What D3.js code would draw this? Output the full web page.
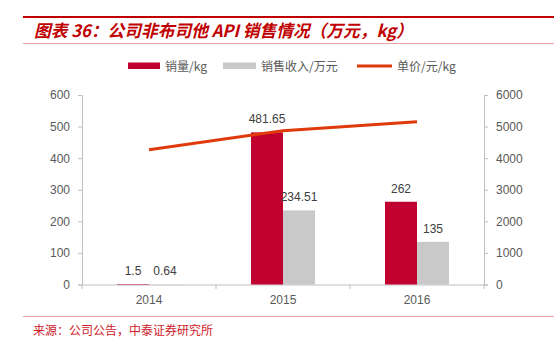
<!DOCTYPE html>
<html><head><meta charset="utf-8">
<script src="https://cdn.jsdelivr.net/npm/d3@7"></script>
<style>
html,body{margin:0;padding:0;background:#fff;}
svg{display:block;}
</style></head>
<body>
<script>
const categories = ["2014", "2015", "2016"];
const volume = [1.5, 481.65, 262];          // 销量/kg
const revenue = [0.64, 234.51, 135];        // 销售收入/万元
const price = [4267, 4869, 5153];           // 单价/元/kg
const volumeLabels = ["1.5", "481.65", "262"];
const revenueLabels = ["0.64", "234.51", "135"];
const leftTicks = [0, 100, 200, 300, 400, 500, 600];
const rightTicks = [0, 1000, 2000, 3000, 4000, 5000, 6000];
const seriesNames = ["销量/kg", "销售收入/万元", "单价/元/kg"];

const W = 559, H = 343;
const svg = d3.select("body").append("svg").attr("width", W).attr("height", H);
const numFont = "'Liberation Sans', Arial, sans-serif";
const cjkFont = "'Noto Sans CJK SC', sans-serif";
const red = "#C0002F", gray = "#C9C9C9", orange = "#E03A0A", txt = "#595959";

// header
svg.append("line").attr("x1", 23).attr("x2", 554).attr("y1", 17).attr("y2", 17)
  .attr("stroke", "#C00000").attr("stroke-width", 2);
svg.append("text").attr("x", 34).attr("y", 37)
  .attr("font-family", cjkFont).attr("font-size", 17).attr("font-weight", "bold")
  .attr("font-style", "italic").attr("fill", "#C00000")
  .attr("textLength", 379).attr("lengthAdjust", "spacingAndGlyphs")
  .text("图表 36：公司非布司他 API 销售情况（万元，kg）");
svg.append("line").attr("x1", 23).attr("x2", 554).attr("y1", 43.5).attr("y2", 43.5)
  .attr("stroke", "#E9A3A3").attr("stroke-width", 1);

// footer
svg.append("line").attr("x1", 23).attr("x2", 554).attr("y1", 316.5).attr("y2", 316.5)
  .attr("stroke", "#E9A3A3").attr("stroke-width", 1);
svg.append("text").attr("x", 33).attr("y", 335)
  .attr("font-family", cjkFont).attr("font-size", 12).attr("fill", "#D0202A")
  .text("来源：公司公告，中泰证券研究所");

// scales
const x = d3.scaleBand().domain(categories).range([82, 484]);
const yL = d3.scaleLinear().domain([0, 600]).range([284.5, 95]);
const yR = d3.scaleLinear().domain([0, 6000]).range([284.5, 95]);
const bw = 32;

// axes
const axL = svg.append("g").attr("transform", "translate(82,0)")
  .call(d3.axisLeft(yL).tickValues(leftTicks).tickFormat(d3.format("d")).tickSize(4).tickPadding(8));
const axR = svg.append("g").attr("transform", "translate(484,0)")
  .call(d3.axisRight(yR).tickValues(rightTicks).tickFormat(d3.format("d")).tickSize(4).tickPadding(8));
const axB = svg.append("g").attr("transform", "translate(0,284.5)")
  .call(d3.axisBottom(x).tickSize(0).tickPadding(11));
// category boundary ticks
svg.append("g").selectAll("line").data(d3.range(categories.length + 1)).join("line")
  .attr("x1", i => 82 + i * x.step()).attr("x2", i => 82 + i * x.step())
  .attr("y1", 284.5).attr("y2", 289).attr("stroke", "#BFBFBF");
[axL, axR, axB].forEach(g => {
  g.selectAll("path.domain").attr("stroke", "#BFBFBF");
  g.selectAll(".tick line").attr("stroke", "#BFBFBF");
  g.selectAll("text").attr("font-family", numFont).attr("font-size", 12).attr("fill", txt);
});

const center = d => x(d) + x.bandwidth() / 2;

// bars
svg.append("g").selectAll("rect").data(categories).join("rect")
  .attr("x", d => center(d) - bw).attr("width", bw)
  .attr("y", (d, i) => yL(volume[i])).attr("height", (d, i) => yL(0) - yL(volume[i]))
  .attr("fill", red);
svg.append("g").selectAll("rect").data(categories).join("rect")
  .attr("x", d => center(d)).attr("width", bw)
  .attr("y", (d, i) => yL(revenue[i])).attr("height", (d, i) => yL(0) - yL(revenue[i]))
  .attr("fill", gray);

// bar labels
const lbl = svg.append("g").attr("font-family", numFont).attr("font-size", 12)
  .attr("fill", "#404040").attr("text-anchor", "middle");
lbl.selectAll("text.v").data(categories).join("text").attr("class", "v")
  .attr("x", d => center(d) - bw / 2).attr("y", (d, i) => yL(volume[i]) - 9)
  .text((d, i) => volumeLabels[i]);
lbl.selectAll("text.r").data(categories).join("text").attr("class", "r")
  .attr("x", d => center(d) + bw / 2).attr("y", (d, i) => yL(revenue[i]) - 9)
  .text((d, i) => revenueLabels[i]);

// price line
svg.append("path").datum(categories)
  .attr("d", d3.line().x(d => center(d)).y((d, i) => yR(price[i])))
  .attr("fill", "none").attr("stroke", orange).attr("stroke-width", 3);

// legend
const lg = svg.append("g").attr("font-family", cjkFont).attr("font-size", 12).attr("fill", txt);
lg.append("rect").attr("x", 128).attr("y", 62.5).attr("width", 32).attr("height", 6.5).attr("fill", red);
lg.append("text").attr("x", 165).attr("y", 71).text(seriesNames[0]);
lg.append("rect").attr("x", 223).attr("y", 62.5).attr("width", 33).attr("height", 6.5).attr("fill", gray);
lg.append("text").attr("x", 261).attr("y", 71).text(seriesNames[1]);
lg.append("line").attr("x1", 357).attr("x2", 392).attr("y1", 66).attr("y2", 66)
  .attr("stroke", orange).attr("stroke-width", 3);
lg.append("text").attr("x", 397).attr("y", 71).text(seriesNames[2]);
</script>
</body></html>
